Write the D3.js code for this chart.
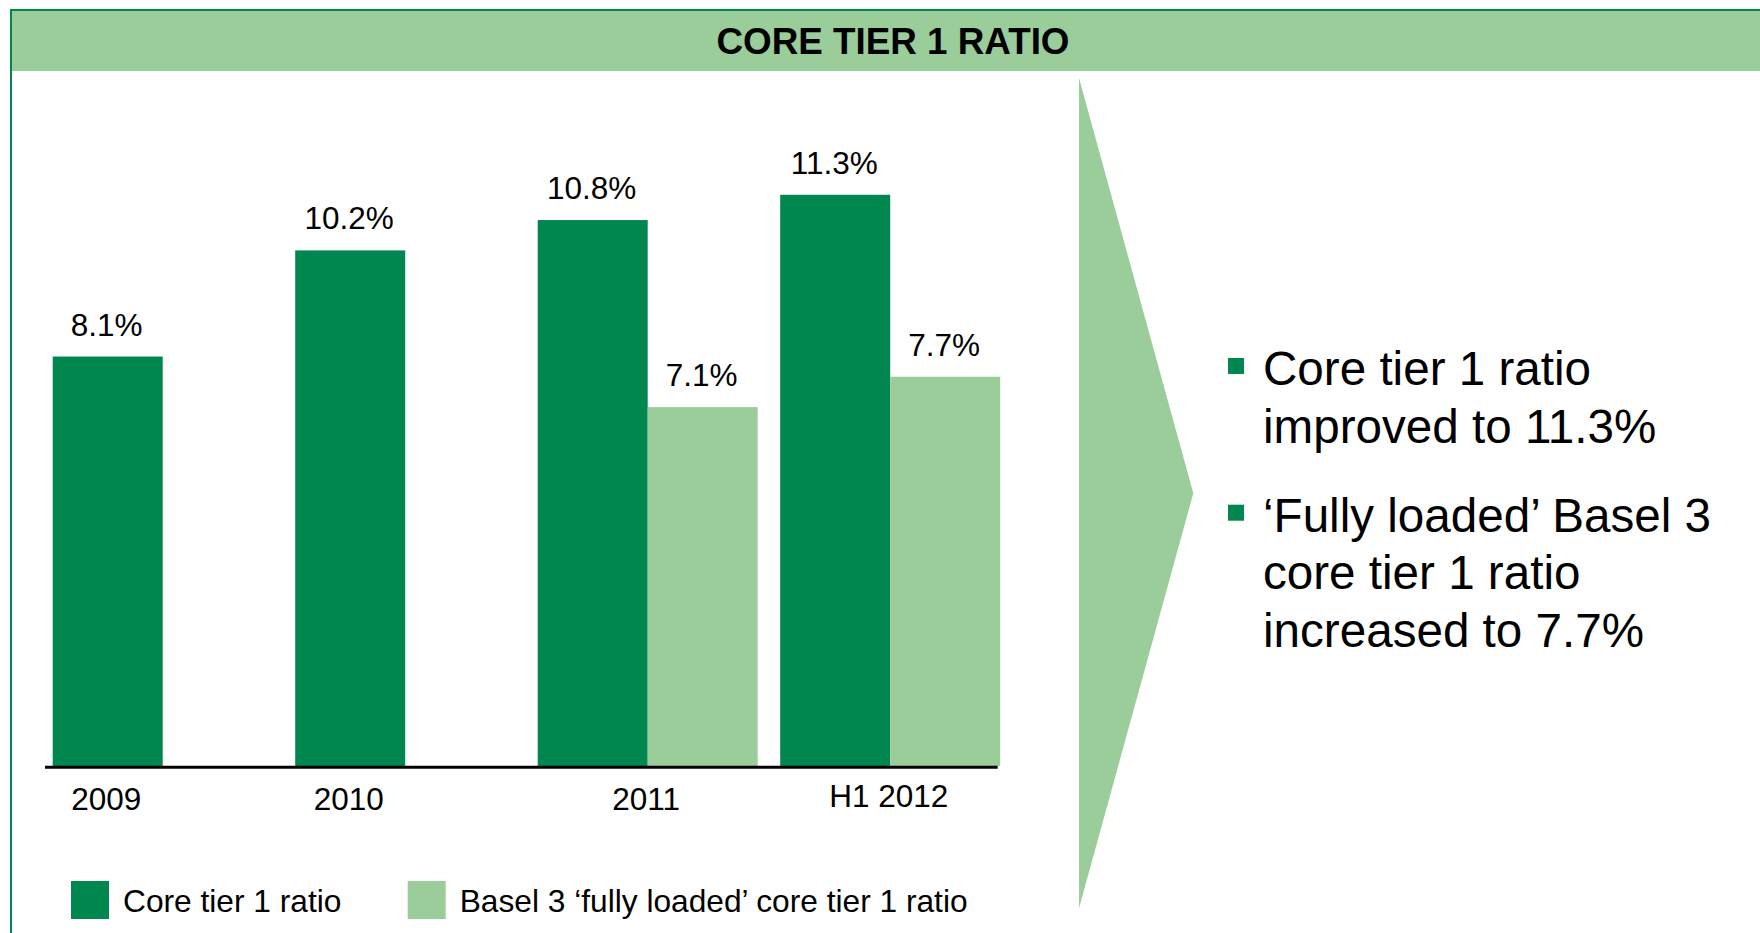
<!DOCTYPE html>
<html>
<head>
<meta charset="utf-8">
<script src="https://cdn.jsdelivr.net/npm/d3@7"></script>
<style>
  html, body { margin: 0; padding: 0; background: #ffffff; }
  svg { display: block; }
  text { font-family: "Liberation Sans", Arial, sans-serif; fill: #000; }
</style>
</head>
<body>
<svg id="chart" width="1760" height="933"></svg>
<script>
// ---------- data ----------
const categories = ["2009", "2010", "2011", "H1 2012"];
const coreTier1 = [8.1, 10.2, 10.8, 11.3];
const basel3 = [null, null, 7.1, 7.7];
const seriesKeys = ["core", "basel"];
const seriesNames = ["Core tier 1 ratio", "Basel 3 \u2018fully loaded\u2019 core tier 1 ratio"];
const title = "CORE TIER 1 RATIO";
const bulletLines = [
  ["Core tier 1 ratio", "improved to 11.3%"],
  ["\u2018Fully loaded\u2019 Basel 3", "core tier 1 ratio", "increased to 7.7%"]
];

// ---------- styles ----------
const DARK = "#00874F";
const LIGHT = "#9ACD9A";
const colors = { core: DARK, basel: LIGHT };

const svg = d3.select("#chart");

// ---------- frame & header ----------
svg.append("rect").attr("x", 11).attr("y", 11).attr("width", 1749).attr("height", 60).attr("fill", LIGHT);
svg.append("line").attr("x1", 10).attr("x2", 1760).attr("y1", 10).attr("y2", 10)
  .attr("stroke", DARK).attr("stroke-width", 2);
svg.append("line").attr("x1", 11).attr("x2", 11).attr("y1", 9).attr("y2", 933)
  .attr("stroke", DARK).attr("stroke-width", 2);
svg.append("text").attr("x", 893).attr("y", 54).attr("text-anchor", "middle")
  .attr("font-size", 36.8).attr("font-weight", "bold").text(title);

// ---------- scales ----------
const x0 = d3.scaleBand().domain(categories).range([52.7, 1000.2]).paddingInner(0.0928).paddingOuter(0);
const x1 = d3.scaleBand().domain(seriesKeys).range([0, x0.bandwidth()]).padding(0);
const y = d3.scaleLinear().domain([0, 14]).range([766, 58.3]);

const rows = categories.map((c, i) => ({
  cat: c,
  values: [
    { key: "core", value: coreTier1[i] },
    { key: "basel", value: basel3[i] }
  ].filter(d => d.value != null)
}));

const fmt = v => d3.format(".1f")(v) + "%";

// ---------- bars ----------
const groups = svg.append("g").selectAll("g").data(rows).join("g")
  .attr("transform", d => `translate(${x0(d.cat)},0)`);

groups.selectAll("rect").data(d => d.values).join("rect")
  .attr("x", d => x1(d.key))
  .attr("width", x1.bandwidth())
  .attr("y", d => y(d.value))
  .attr("height", d => y(0) - y(d.value))
  .attr("fill", d => colors[d.key]);

groups.selectAll("text.val").data(d => d.values).join("text")
  .attr("class", "val")
  .attr("x", d => x1(d.key) + x1.bandwidth() / 2 - 1)
  .attr("y", d => y(d.value) - 21)
  .attr("text-anchor", "middle")
  .attr("font-size", 31.5)
  .text(d => fmt(d.value));

// ---------- axis ----------
svg.append("line")
  .attr("x1", x0.range()[0] - 7.7).attr("x2", x0.range()[1] - 2.5)
  .attr("y1", y(0) + 1.3).attr("y2", y(0) + 1.3)
  .attr("stroke", "#000").attr("stroke-width", 3);

svg.append("g").selectAll("text").data(rows).join("text")
  .attr("x", d => {
    const xs = d.values.map(v => x0(d.cat) + x1(v.key) + x1.bandwidth() / 2);
    return d3.mean(xs) - 1.5;
  })
  .attr("y", (d, i) => i === rows.length - 1 ? 807 : 810)
  .attr("text-anchor", "middle")
  .attr("font-size", 31.5)
  .text(d => d.cat);

// ---------- legend ----------
const legendX = [71, 407.7];
const legend = svg.append("g").selectAll("g").data(seriesKeys).join("g")
  .attr("transform", (d, i) => `translate(${legendX[i]},881)`);
legend.append("rect").attr("width", 38).attr("height", 38).attr("fill", d => colors[d]);
legend.append("text").attr("x", 52).attr("y", 31.3).attr("font-size", 31.7)
  .text((d, i) => seriesNames[i]);

// ---------- arrow ----------
svg.append("path")
  .attr("d", "M1079,78 L1193.3,493.3 L1079,908.3 Z")
  .attr("fill", LIGHT);

// ---------- bullets ----------
const bulletBase = [385, 531.7];
const lineH = 57.5;
const bullets = svg.append("g").selectAll("g").data(bulletLines).join("g")
  .attr("transform", (d, i) => `translate(0,${bulletBase[i]})`);
bullets.append("rect").attr("x", 1228).attr("y", -27).attr("width", 16).attr("height", 16).attr("fill", DARK);
bullets.selectAll("text").data(d => d).join("text")
  .attr("x", 1263).attr("y", (d, i) => i * lineH)
  .attr("font-size", 47.6)
  .text(d => d);
</script>
</body>
</html>
